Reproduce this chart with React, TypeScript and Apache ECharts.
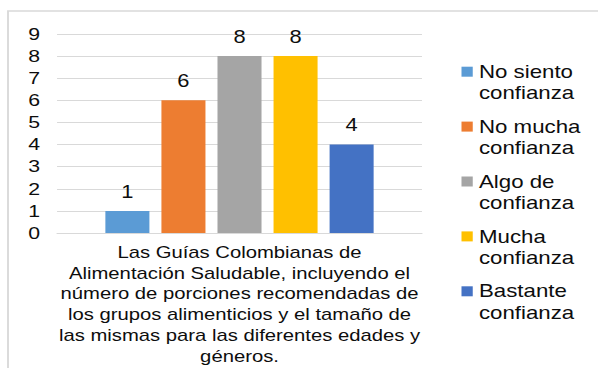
import React, { useEffect, useRef } from "react";
import * as echarts from "echarts";

const categories = [
  "Las Guías Colombianas de\nAlimentación Saludable, incluyendo el\nnúmero de porciones recomendadas de\nlos grupos alimenticios y el tamaño de\nlas mismas para las diferentes edades y\ngéneros.",
];
const seriesNames = [
  "No siento confianza",
  "No mucha confianza",
  "Algo de confianza",
  "Mucha confianza",
  "Bastante confianza",
];
const seriesValues = [1, 6, 8, 8, 4];
const seriesColors = ["#5B9BD5", "#ED7D31", "#A5A5A5", "#FFC000", "#4472C4"];
const yMin = 0;
const yMax = 9;
const yInterval = 1;

const SX = 1.251;
const W = 478;
const H = 368;
const FONT = "Liberation Sans, Arial, sans-serif";
const TEXT = "#0d0d0d";

export default function App() {
  const ref = useRef<HTMLDivElement>(null);
  useEffect(() => {
    const chart = echarts.init(ref.current!, null, { renderer: "svg" });
    chart.setOption({
      animation: false,
      textStyle: { fontFamily: FONT, color: TEXT },
      graphic: [
        {
          type: "rect",
          shape: { x: 6.4, y: 11, width: 600, height: 400 },
          style: { fill: "none", stroke: "#d9d9d9", lineWidth: 1.5 },
          silent: true,
          z: -10,
        },
      ],
      grid: { left: 45.6, right: 140.7, top: 34, bottom: 135, containLabel: false },
      legend: {
        orient: "vertical",
        left: 368.9,
        top: 39.3,
        padding: 0,
        itemWidth: 9,
        itemHeight: 10,
        itemGap: -9.9,
        icon: "rect",
        data: seriesNames,
        formatter: (name: string) => "\n" + name.replace(" confianza", "\nconfianza"),
        textStyle: {
          fontFamily: FONT,
          color: TEXT,
          fontSize: 17.8,
          lineHeight: 21.6,
        },
      },
      xAxis: {
        type: "category",
        data: categories,
        axisTick: { show: false },
        axisLine: { lineStyle: { color: "#d9d9d9", width: 1 } },
        axisLabel: {
          fontFamily: FONT,
          color: TEXT,
          fontSize: 16.2,
          lineHeight: 20.7,
          margin: 9,
          align: "center",
        },
      },
      yAxis: {
        type: "value",
        min: yMin,
        max: yMax,
        interval: yInterval,
        axisLine: { show: false },
        axisTick: { show: false },
        splitLine: { lineStyle: { color: "#d9d9d9", width: 1 } },
        axisLabel: { fontFamily: FONT, color: TEXT, fontSize: 17, margin: 13.6 },
      },
      series: seriesNames.map((name, i) => ({
        name,
        type: "bar",
        data: [seriesValues[i]],
        barWidth: 35.2,
        barGap: "27.3%",
        itemStyle: { color: seriesColors[i] },
        label: {
          show: true,
          position: "top",
          distance: 10.5,
          fontFamily: FONT,
          color: TEXT,
          fontSize: 17.5,
        },
      })),
    });
    return () => chart.dispose();
  }, []);
  return (
    <div
      style={{
        position: "fixed",
        left: 0,
        top: 0,
        width: W,
        height: H,
        transform: `scaleX(${SX})`,
        transformOrigin: "0 0",
        background: "#fff",
      }}
    >
      <div ref={ref} style={{ width: W, height: H }} />
    </div>
  );
}
